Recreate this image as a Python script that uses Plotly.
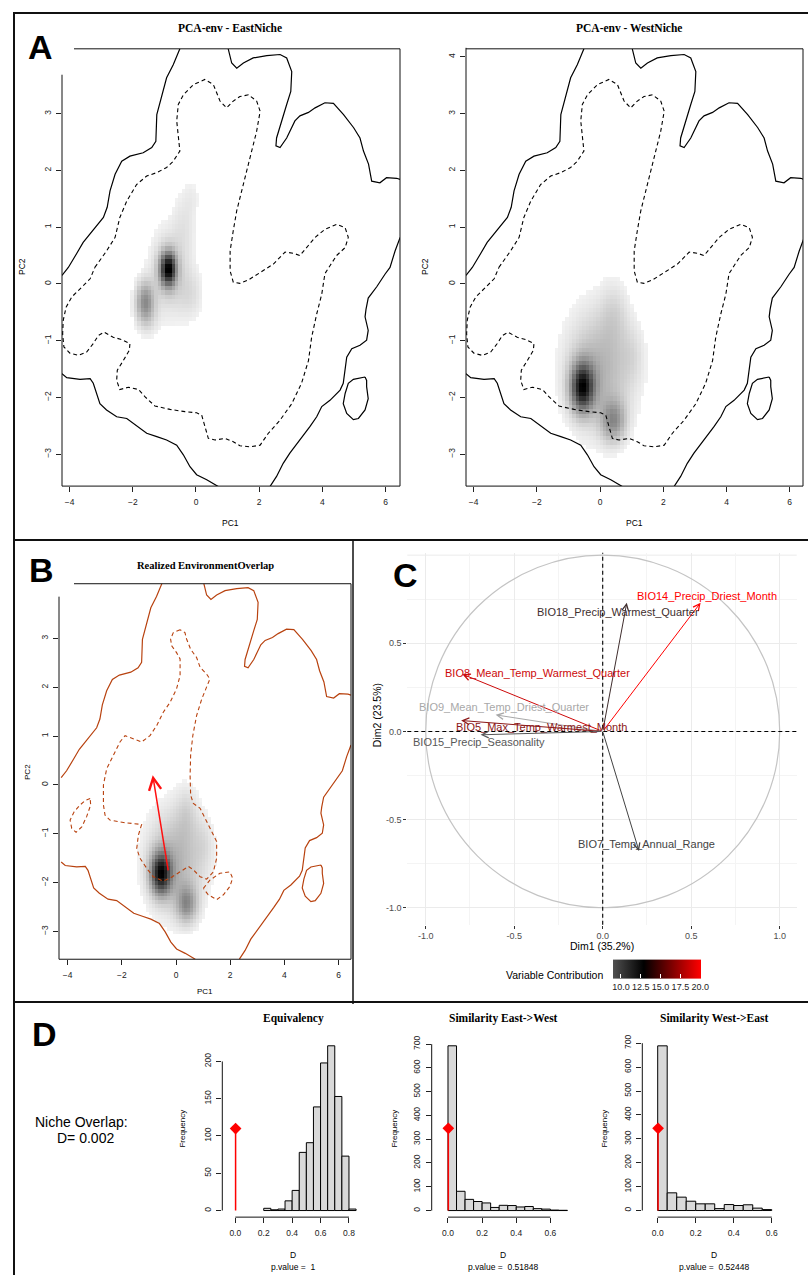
import numpy as np
import plotly.graph_objects as go

W, H = 808, 1275
SANS = "Liberation Sans, Arial, sans-serif"
SERIF = "Liberation Serif, Times New Roman, serif"

# ======================= DATA =======================
# Environment contours in PCA space (PC1, PC2) (polyline pieces)
ENV_OUTER_PIECES = [
    [(-0.51, 4.14), (-0.72, 3.86), (-0.93, 3.63), (-1.14, 3.22), (-1.24, 2.98), (-1.27, 2.51), (-1.40, 2.40),
     (-1.67, 2.31), (-2.09, 2.25), (-2.35, 2.16), (-2.56, 1.93), (-2.72, 1.64), (-2.81, 1.35), (-2.93, 1.17),
     (-3.25, 0.94), (-3.57, 0.73), (-3.78, 0.53), (-4.04, 0.29), (-4.24, 0.15)],
    [(1.02, 4.14), (1.13, 3.89), (1.29, 3.80), (1.50, 3.89), (1.81, 3.98), (2.24, 4.02), (2.66, 4.04),
     (2.87, 3.98), (3.03, 3.74), (3.00, 3.39), (2.87, 3.16), (2.71, 2.87), (2.55, 2.57), (2.53, 2.43),
     (2.66, 2.40), (2.87, 2.57), (3.13, 2.87), (3.29, 2.96), (3.56, 3.02), (3.77, 3.10), (4.08, 3.19),
     (4.35, 3.18), (4.67, 2.98), (4.99, 2.75), (5.19, 2.57), (5.30, 2.34), (5.46, 2.11), (5.56, 1.81),
     (5.82, 1.78), (6.03, 1.87), (6.35, 1.86), (6.46, 1.84)],
    [(6.46, 0.82), (6.30, 0.58), (6.14, 0.29), (5.98, 0.17), (5.72, -0.05), (5.45, -0.25), (5.38, -0.45),
     (5.35, -0.58), (5.45, -0.82), (5.40, -0.99), (5.19, -1.08), (4.93, -1.14), (4.77, -1.29), (4.72, -1.52),
     (4.66, -1.75), (4.56, -1.87), (4.24, -2.05), (3.98, -2.16), (3.82, -2.34), (3.61, -2.51), (3.29, -2.75),
     (2.97, -2.98), (2.76, -3.16), (2.55, -3.39), (2.34, -3.57)],
    [(-4.24, -1.58), (-4.09, -1.65), (-3.67, -1.68), (-3.35, -1.67), (-3.25, -1.75), (-3.14, -1.93),
     (-3.04, -2.11), (-2.83, -2.22), (-2.51, -2.34), (-2.19, -2.37), (-1.87, -2.51), (-1.56, -2.63),
     (-1.24, -2.69), (-0.93, -2.75), (-0.61, -2.84), (-0.40, -3.01), (-0.19, -3.22), (0.02, -3.36),
     (0.34, -3.45), (0.65, -3.54), (0.71, -3.57)],
    [(5.35, -1.64), (4.98, -1.68), (4.82, -1.75), (4.72, -1.93), (4.66, -2.11), (4.77, -2.28), (4.98, -2.39),
     (5.14, -2.37), (5.35, -2.22), (5.45, -2.02), (5.40, -1.81), (5.40, -1.70), (5.35, -1.64)],
]

ENV_INNER_A = [
    (-3.20, 0.29), (-2.83, 0.58), (-2.56, 0.82), (-2.41, 1.17), (-2.19, 1.46), (-1.88, 1.75), (-1.56, 1.90),
    (-1.24, 1.96), (-0.93, 2.05), (-0.72, 2.16), (-0.51, 2.34), (-0.56, 2.57), (-0.61, 2.87), (-0.56, 3.16),
    (-0.40, 3.33), (-0.08, 3.51), (0.28, 3.60), (0.55, 3.51), (0.76, 3.22), (0.97, 3.10), (1.18, 3.22),
    (1.39, 3.30), (1.66, 3.33), (1.92, 3.22), (2.03, 3.04), (1.92, 2.69), (1.76, 2.34), (1.60, 1.99),
    (1.45, 1.64), (1.29, 1.29), (1.18, 0.94), (1.08, 0.58), (1.08, 0.23), (1.18, 0.03), (1.39, 0.01),
    (1.66, 0.07), (2.03, 0.20), (2.45, 0.35), (2.82, 0.56), (3.08, 0.54), (3.29, 0.50), (3.50, 0.64),
    (3.77, 0.82), (4.08, 0.96), (4.45, 1.05), (4.72, 0.99), (4.82, 0.82), (4.72, 0.64), (4.45, 0.50),
    (4.24, 0.32), (4.08, 0.18), (3.98, -0.18), (3.82, -0.53), (3.66, -0.94), (3.56, -1.35), (3.34, -1.75),
    (3.03, -2.11), (2.66, -2.40), (2.29, -2.63), (2.03, -2.84), (1.71, -2.87), (1.39, -2.85), (1.18, -2.78),
    (0.92, -2.72), (0.60, -2.75), (0.39, -2.72), (0.28, -2.51), (0.18, -2.31), (0.02, -2.27), (-0.35, -2.25),
    (-0.82, -2.21), (-1.30, -2.15), (-1.61, -1.99), (-1.82, -1.86), (-2.14, -1.82), (-2.41, -1.86),
    (-2.51, -1.70), (-2.49, -1.52), (-2.30, -1.35), (-2.11, -1.17), (-2.09, -1.05), (-2.35, -0.98),
    (-2.62, -0.94), (-2.91, -0.85), (-3.09, -0.91), (-3.25, -1.05), (-3.46, -1.20), (-3.72, -1.26),
    (-3.99, -1.22), (-4.18, -1.11), (-4.22, -0.88), (-4.20, -0.64), (-4.11, -0.41), (-3.93, -0.23),
    (-3.62, -0.06), (-3.35, 0.09), (-3.20, 0.29),
]

OVERLAP_DASHED_PIECES = [
    [(0.15, 3.18), (-0.10, 3.12), (-0.20, 2.99), (-0.16, 2.85), (0.02, 2.71), (0.15, 2.58), (0.15, 2.24),
     (0.02, 1.97), (-0.22, 1.69), (-0.47, 1.49), (-0.71, 1.22), (-0.96, 1.01), (-1.27, 0.88), (-1.64, 0.95),
     (-1.88, 1.01), (-2.07, 0.88), (-2.31, 0.61), (-2.56, 0.33), (-2.68, 0.00), (-2.68, -0.41), (-2.62, -0.62),
     (-2.44, -0.72), (-1.94, -0.77), (-1.45, -0.79), (-1.27, -0.81), (-1.39, -1.03), (-1.45, -1.30),
     (-1.33, -1.50), (-1.08, -1.71), (-0.84, -1.88), (-0.47, -1.97), (-0.22, -1.91), (0.15, -1.78),
     (0.46, -1.67), (0.64, -1.74), (0.89, -1.88), (1.13, -1.93), (1.38, -1.78), (1.50, -1.50), (1.50, -1.16),
     (1.32, -0.96), (1.07, -0.69), (0.89, -0.48), (0.64, -0.38), (0.54, -0.21), (0.52, 0.20), (0.54, 0.61),
     (0.62, 1.01), (0.76, 1.42), (0.95, 1.76), (1.13, 2.03), (1.25, 2.17), (1.13, 2.27), (0.89, 2.41),
     (0.76, 2.61), (0.54, 2.78), (0.39, 2.99), (0.33, 3.12), (0.15, 3.18)],
    [(-3.17, -0.28), (-3.35, -0.32), (-3.54, -0.41), (-3.76, -0.55), (-3.91, -0.72), (-3.85, -0.89),
     (-3.69, -0.97), (-3.48, -0.86), (-3.30, -0.65), (-3.15, -0.41), (-3.17, -0.28)],
    [(1.01, -2.12), (1.25, -1.95), (1.62, -1.81), (1.99, -1.78), (2.09, -1.91), (1.99, -2.08), (1.75, -2.25),
     (1.50, -2.35), (1.19, -2.25), (1.01, -2.12)],
]

# Occurrence-density kernels read from the grey surfaces:
# (PC1 centre, PC2 centre, spread PC1, spread PC2, relative weight)
EAST_BLOBS = [
    (-0.88, 0.26, 0.18, 0.21, 1.00),
    (-1.62, -0.30, 0.21, 0.25, 0.45),
    (-0.85, 0.20, 0.45, 0.55, 0.22),
    (-0.15, -0.20, 0.30, 0.32, 0.12),
    (-0.35, 1.10, 0.28, 0.45, 0.10),
    (-0.10, 1.55, 0.18, 0.22, 0.05),
    (-1.55, -0.60, 0.25, 0.25, 0.12),
]
WEST_BLOBS = [
    (-0.56, -1.82, 0.26, 0.30, 1.00),
    (0.42, -2.42, 0.28, 0.26, 0.45),
    (0.00, -1.50, 0.75, 0.75, 0.36),
    (0.45, -0.50, 0.30, 0.40, 0.12),
    (1.05, -1.25, 0.25, 0.35, 0.08),
]
OVERLAP_BLOBS = [
    (-0.56, -1.82, 0.26, 0.30, 1.00),
    (0.40, -2.45, 0.28, 0.27, 0.45),
    (0.00, -1.55, 0.75, 0.75, 0.36),
    (0.40, -0.55, 0.28, 0.40, 0.12),
    (1.05, -1.20, 0.25, 0.35, 0.08),
]

SHIFT_FROM = (-0.28, -1.78)
SHIFT_TO = (-0.86, 0.20)

# PCA variables (panel C)
VAR_NAMES = ["BIO14_Precip_Driest_Month", "BIO18_Precip_Warmest_Quarter", "BIO8_Mean_Temp_Warmest_Quarter",
             "BIO9_Mean_Temp_Driest_Quarter", "BIO5_Max_Temp_Warmest_Month", "BIO15_Precip_Seasonality",
             "BIO7_Temp_Annual_Range"]
VAR_DIM1 = [0.553, 0.136, -0.793, -0.605, -0.800, -0.690, 0.205]
VAR_DIM2 = [0.730, 0.730, 0.325, 0.094, 0.062, -0.019, -0.678]
VAR_CONTRIB = [20.1, 13.5, 18.6, 9.0, 16.5, 11.5, 12.3]
DIM1_LABEL = "Dim1 (35.2%)"
DIM2_LABEL = "Dim2 (23.5%)"
CONTRIB_TICKS = [10.0, 12.5, 15.0, 17.5, 20.0]

# Histograms (panel D)
OBS_D = 0.002
EQ_BIN_LEFT = [0.20, 0.25, 0.30, 0.35, 0.40, 0.45, 0.50, 0.55, 0.60, 0.65, 0.70, 0.75, 0.80]
EQ_COUNTS = [3, 1, 2, 13, 27, 78, 91, 139, 198, 221, 153, 73, 2]
EQ_MARK = 110
SIM_EW_BIN_LEFT = [0.00, 0.05, 0.10, 0.15, 0.20, 0.25, 0.30, 0.35, 0.40, 0.45, 0.50, 0.55, 0.60, 0.65]
SIM_EW_COUNTS = [693, 81, 47, 38, 32, 13, 22, 21, 15, 17, 8, 6, 2, 1]
SIM_EW_MARK = 346
SIM_WE_BIN_LEFT = [0.00, 0.05, 0.10, 0.15, 0.20, 0.25, 0.30, 0.35, 0.40, 0.45, 0.50, 0.55]
SIM_WE_COUNTS = [689, 74, 56, 39, 28, 28, 8, 25, 21, 24, 10, 4]
SIM_WE_MARK = 344
BIN_WIDTH = 0.05
P_VALUES = ["1", "0.51848", "0.52448"]
NICHE_OVERLAP_D = "0.002"

# ======================= HELPERS =======================
def PX(px):
    return px / W


def PY(py):
    return 1 - py / H


def pieces_xy(pieces):
    xs, ys = [], []
    for p in pieces:
        xs += [q[0] for q in p] + [None]
        ys += [q[1] for q in p] + [None]
    return xs, ys


GX = np.linspace(-4.30, 6.45, 100)
GY = np.linspace(-3.57, 4.12, 100)


def density(blobs, thr=0.05):
    Xg, Yg = np.meshgrid(GX, GY)
    Z = np.zeros_like(Xg)
    for cx, cy, sx, sy, w in blobs:
        Z += w * np.exp(-0.5 * (((Xg - cx) / sx) ** 2 + ((Yg - cy) / sy) ** 2))
    Z = Z / Z.max()
    return [[(float(v) if v >= thr else None) for v in row] for row in Z]


CSCALE = [[0.0, "#505050"], [0.35, "#000000"], [1.0, "#ff0000"]]
CMIN, CMAX = 9.0, 20.1


def hex2rgb(h):
    h = h.lstrip("#")
    return [int(h[i:i + 2], 16) for i in (0, 2, 4)]


def contrib_color(v):
    t = (v - CMIN) / (CMAX - CMIN)
    t = min(max(t, 0), 1)
    for (a, ca), (b, cb) in zip(CSCALE[:-1], CSCALE[1:]):
        if a <= t <= b:
            f = (t - a) / (b - a)
            c1, c2 = hex2rgb(ca), hex2rgb(cb)
            rgb = [c1[i] + f * (c2[i] - c1[i]) for i in range(3)]
            break
    alpha = 0.5 + 0.5 * t ** 0.5
    rgb = [255 - alpha * (255 - c) for c in rgb]
    return "rgb(%d,%d,%d)" % tuple(int(round(c)) for c in rgb)


fig = go.Figure()

# ======================= PANEL A / B: niches =======================
niche_panels = [
    ("x", "y", EAST_BLOBS, "black", [ENV_INNER_A]),
    ("x2", "y2", WEST_BLOBS, "black", [ENV_INNER_A]),
    ("x3", "y3", OVERLAP_BLOBS, "#b8420f", OVERLAP_DASHED_PIECES),
]
gray_scale = [[0, "#ffffff"], [1, "#000000"]]
for xa, ya, blobs, lc, dashed in niche_panels:
    fig.add_trace(go.Heatmap(x=GX, y=GY, z=density(blobs), colorscale=gray_scale, zmin=0, zmax=1,
                             showscale=False, zsmooth=False, hoverinfo="skip", xaxis=xa, yaxis=ya))
    ox, oy = pieces_xy(ENV_OUTER_PIECES)
    fig.add_trace(go.Scatter(x=ox, y=oy, mode="lines", line=dict(color=lc, width=1.2),
                             hoverinfo="skip", showlegend=False, xaxis=xa, yaxis=ya))
    dx, dy = pieces_xy(dashed)
    fig.add_trace(go.Scatter(x=dx, y=dy, mode="lines", line=dict(color=lc, width=1.1, dash="4px,3px"),
                             hoverinfo="skip", showlegend=False, xaxis=xa, yaxis=ya))

# ======================= PANEL C: PCA variables =======================
fig.add_trace(go.Scatter(
    x=VAR_DIM1, y=VAR_DIM2, mode="markers", xaxis="x4", yaxis="y4", hoverinfo="skip", showlegend=False,
    marker=dict(size=0.1, color=VAR_CONTRIB, colorscale=CSCALE, cmin=CMIN, cmax=CMAX, showscale=True,
                colorbar=dict(orientation="h", x=PX(657), xanchor="center", y=PY(976.5), yanchor="middle",
                              len=88, lenmode="pixels", thickness=19, thicknessmode="pixels",
                              tickvals=CONTRIB_TICKS, ticktext=["%.1f" % v for v in CONTRIB_TICKS],
                              ticks="inside", tickcolor="white", ticklen=4, outlinewidth=0,
                              tickfont=dict(family=SANS, size=9, color="#222"), ypad=0, xpad=0))))

# ======================= PANEL D: histograms =======================
hists = [
    ("x5", "y5", EQ_BIN_LEFT, EQ_COUNTS, EQ_MARK),
    ("x6", "y6", SIM_EW_BIN_LEFT, SIM_EW_COUNTS, SIM_EW_MARK),
    ("x7", "y7", SIM_WE_BIN_LEFT, SIM_WE_COUNTS, SIM_WE_MARK),
]
for xa, ya, left, counts, mark in hists:
    fig.add_trace(go.Bar(x=[l + BIN_WIDTH / 2 for l in left], y=counts, width=BIN_WIDTH,
                         marker=dict(color="#d9d9d9", line=dict(color="black", width=1)),
                         hoverinfo="skip", showlegend=False, xaxis=xa, yaxis=ya))
    fig.add_trace(go.Scatter(x=[OBS_D, OBS_D], y=[0, mark], mode="lines", line=dict(color="red", width=1.5),
                             hoverinfo="skip", showlegend=False, xaxis=xa, yaxis=ya))
    fig.add_trace(go.Scatter(x=[OBS_D], y=[mark], mode="markers",
                             marker=dict(symbol="diamond", size=9, color="red"),
                             hoverinfo="skip", showlegend=False, xaxis=xa, yaxis=ya))

# ======================= AXES =======================
tickfont = dict(family=SANS, size=8.5, color="#222")


def niche_axes(xd, yd, xr, yr, yt):
    xa = dict(domain=xd, range=xr, showgrid=False, zeroline=False, showline=False, ticks="outside",
              ticklen=5, tickwidth=1, tickcolor="#222", tickvals=[-4, -2, 0, 2, 4, 6], tickfont=tickfont,
              ticklabelstandoff=3, fixedrange=True)
    ya = dict(domain=yd, range=yr, showgrid=False, zeroline=False, showline=False, ticks="outside",
              ticklen=5, tickwidth=1, tickcolor="#222", tickvals=yt, tickangle=-90, tickfont=tickfont,
              ticklabelstandoff=2, fixedrange=True)
    return xa, ya


A_Y = [PY(483), PY(44)]
xa1, ya1 = niche_axes([PX(62), PX(400)], A_Y, [-4.24, 6.456], [-3.561, 4.140], [-3, -2, -1, 0, 1, 2, 3])
xa2, ya2 = niche_axes([PX(466), PX(803)], A_Y, [-4.24, 6.42], [-3.561, 4.140], [-3, -2, -1, 0, 1, 2, 3, 4])
xa3, ya3 = niche_axes([PX(59), PX(351)], [PY(958), PY(581)], [-4.32, 6.46], [-3.571, 4.122],
                      [-3, -2, -1, 0, 1, 2, 3])

c_tickfont = dict(family=SANS, size=9, color="#4d4d4d")
xa4 = dict(domain=[PX(407.3), PX(796.7)], range=[-1.104, 1.096], showgrid=True, gridcolor="#ebebeb",
           gridwidth=1, zeroline=False, showline=False, ticks="outside", ticklen=3, tickcolor="#333",
           tickvals=[-1, -0.5, 0, 0.5, 1], ticktext=["-1.0", "-0.5", "0.0", "0.5", "1.0"], tickfont=c_tickfont,
           minor=dict(tickvals=[-0.75, -0.25, 0.25, 0.75], showgrid=True, gridcolor="#f4f4f4", ticks=""),
           fixedrange=True)
ya4 = dict(domain=[PY(923.3), PY(550)], range=[-1.096, 1.013], showgrid=True, gridcolor="#ebebeb",
           gridwidth=1, zeroline=False, showline=False, ticks="outside", ticklen=3, tickcolor="#333",
           tickvals=[-1, -0.5, 0, 0.5], ticktext=["-1.0", "-0.5", "0.0", "0.5"], tickfont=c_tickfont,
           minor=dict(tickvals=[-0.75, -0.25, 0.25, 0.75], showgrid=True, gridcolor="#f4f4f4", ticks=""),
           fixedrange=True)


def hist_axes(xd, xr, yr, xt, yt):
    xa = dict(domain=xd, range=xr, showgrid=False, zeroline=False, showline=False, ticks="outside",
              ticklen=5, tickcolor="#222", tickvals=xt, ticktext=["%.1f" % v for v in xt], tickfont=tickfont,
              ticklabelstandoff=3, fixedrange=True)
    ya = dict(domain=[PY(1216.9), PY(1038.3)], range=yr, showgrid=False, zeroline=False, showline=False,
              ticks="outside", ticklen=5, tickcolor="#222", tickvals=yt, tickangle=-90, tickfont=tickfont,
              ticklabelstandoff=2, fixedrange=True)
    return xa, ya


xa5, ya5 = hist_axes([PX(222.3), PX(363.7)], [-0.0915, 0.9036], [-8.84, 229.8], [0, 0.2, 0.4, 0.6, 0.8],
                     [0, 50, 100, 150, 200])
xa6, ya6 = hist_axes([PX(431.7), PX(571.7)], [-0.0955, 0.725], [-27.7, 720.7], [0, 0.2, 0.4, 0.6],
                     [0, 100, 200, 300, 400, 500, 600, 700])
xa7, ya7 = hist_axes([PX(642.3), PX(784.3)], [-0.081, 0.666], [-27.6, 716.6], [0, 0.2, 0.4, 0.6],
                     [0, 100, 200, 300, 400, 500, 600, 700])

axes = {}
for i, (xa, ya) in enumerate([(xa1, ya1), (xa2, ya2), (xa3, ya3), (xa4, ya4), (xa5, ya5), (xa6, ya6),
                               (xa7, ya7)], start=1):
    sfx = "" if i == 1 else str(i)
    xa["anchor"] = "y" + sfx
    ya["anchor"] = "x" + sfx
    axes["xaxis" + sfx] = xa
    axes["yaxis" + sfx] = ya

# ======================= SHAPES =======================
shapes = []


def pline(x0, y0, x1, y1, w=1.0, color="#111"):
    shapes.append(dict(type="line", xref="paper", yref="paper", x0=PX(x0), y0=PY(y0), x1=PX(x1), y1=PY(y1),
                       line=dict(color=color, width=w)))


# layout borders
pline(13, 8, 808, 8, 2)
pline(14, 8, 14, 1275, 2)
pline(13, 537, 808, 537, 2)
pline(13, 1001, 808, 1001, 2)
pline(353, 537, 353, 1003, 1.5)
# niche frames
pline(74, 44, 400, 44); pline(400, 44, 400, 483); pline(62, 483, 400, 483); pline(62, 70, 62, 483)
pline(466, 44, 803, 44); pline(803, 44, 803, 483); pline(466, 483, 803, 483); pline(466, 43, 466, 483)
pline(74, 581, 351, 581); pline(351, 581, 351, 958); pline(59, 958, 351, 958); pline(59, 594, 59, 958)

# panel C
shapes.append(dict(type="line", xref="x4 domain", yref="y4", x0=0, x1=1, y0=1, y1=1,
                   line=dict(color="#ebebeb", width=1), layer="below"))
shapes.append(dict(type="circle", xref="x4", yref="y4", x0=-1, x1=1, y0=-1, y1=1,
                   line=dict(color="#c4c4c4", width=1.2)))
shapes.append(dict(type="line", xref="x4", yref="y4 domain", x0=0, x1=0, y0=0, y1=1,
                   line=dict(color="black", width=1.1, dash="4px,3px")))
shapes.append(dict(type="line", xref="x4 domain", yref="y4", x0=0, x1=1, y0=0, y1=0,
                   line=dict(color="black", width=1.1, dash="4px,3px")))

# histogram axis lines
for (xa, ya, xt, yt) in [("x5", "y5", [0, 0.8], [0, 200]), ("x6", "y6", [0, 0.6], [0, 700]),
                         ("x7", "y7", [0, 0.6], [0, 700])]:
    shapes.append(dict(type="line", xref=xa + " domain", yref=ya, x0=0, x1=0, y0=yt[0], y1=yt[1],
                       line=dict(color="#111", width=1)))
    shapes.append(dict(type="line", xref=xa, yref=ya + " domain", x0=xt[0], x1=xt[1], y0=0, y1=0,
                       line=dict(color="#111", width=1)))

# ======================= ANNOTATIONS =======================
ann = []


def text(px, py, s, size, family=SANS, color="black", angle=0, xanchor="center"):
    ann.append(dict(x=PX(px), y=PY(py), xref="paper", yref="paper", text=s, showarrow=False,
                    font=dict(family=family, size=size, color=color), textangle=angle,
                    xanchor=xanchor, yanchor="middle"))


# panel letters
text(40, 42, "<b>A</b>", 34)
text(41, 567, "<b>B</b>", 34)
text(405, 572, "<b>C</b>", 34)
text(44, 1033, "<b>D</b>", 34)

# panel A / B titles and axis titles
text(230, 23, "<b>PCA-env - EastNiche</b>", 11.5, SERIF)
text(629, 23, "<b>PCA-env - WestNiche</b>", 11.5, SERIF)
text(205, 563, "<b>Realized EnvironmentOverlap</b>", 10.5, SERIF)
for cx, cy, cxl, pc2x in [(231, 520, 263, 22), (634, 520, 263, 425)]:
    text(cx, cy, "PC1", 8.5)
    text(pc2x, cxl, "PC2", 8.5, angle=-90)
text(205, 990, "PC1", 8)
text(28, 770, "PC2", 8, angle=-90)

# arrow in panel B
ann.append(dict(x=SHIFT_TO[0], y=SHIFT_TO[1], ax=SHIFT_FROM[0], ay=SHIFT_FROM[1], xref="x3", yref="y3",
                axref="x3", ayref="y3", text="", showarrow=True, arrowhead=5, arrowsize=1.6, arrowwidth=1.5,
                arrowcolor="#ff1010", standoff=0))

# panel C arrows and labels
LABEL_POS = [(0.59, 0.77), (0.084, 0.678), (-0.368, 0.329), (-0.56, 0.137), (-0.346, 0.024), (-0.70, -0.06),
             (0.245, -0.637)]
for name, d1, d2, c, (lx, ly) in zip(VAR_NAMES, VAR_DIM1, VAR_DIM2, VAR_CONTRIB, LABEL_POS):
    col = contrib_color(c)
    ann.append(dict(x=d1, y=d2, ax=0, ay=0, xref="x4", yref="y4", axref="x4", ayref="y4", text="",
                    showarrow=True, arrowhead=5, arrowsize=1.3, arrowwidth=1, arrowcolor=col, standoff=0))
    ann.append(dict(x=lx, y=ly, xref="x4", yref="y4", text=name, showarrow=False,
                    font=dict(family=SANS, size=11, color=col), xanchor="center", yanchor="middle"))
text(602, 945, DIM1_LABEL, 10.5)
text(377, 713, DIM2_LABEL, 10.5, angle=-90)
text(554, 974, "Variable Contribution", 10.5)

# panel D texts
text(81, 1121, "Niche Overlap:", 14)
text(85, 1137, "D= " + NICHE_OVERLAP_D, 14)
for cx, title, ylab_x, pv in [(293, "Equivalency", 183, P_VALUES[0]),
                              (503, "Similarity East->West", 395, P_VALUES[1]),
                              (714, "Similarity West->East", 605, P_VALUES[2])]:
    text(cx, 1017, "<b>" + title + "</b>", 11.5, SERIF)
    text(ylab_x, 1128, "Frequency", 8, angle=-90)
    text(cx, 1255, "D", 8.5)
    text(cx, 1267, "p.value =  " + pv, 8.5)

fig.update_layout(width=W, height=H, margin=dict(l=0, r=0, t=0, b=0), paper_bgcolor="white",
                  plot_bgcolor="rgba(0,0,0,0)", showlegend=False, shapes=shapes, annotations=ann,
                  bargap=0, **axes)

fig.write_html("out.html", config={"displayModeBar": False, "staticPlot": True},
               post_script="document.body.style.margin='0px';document.body.style.padding='0px';")
